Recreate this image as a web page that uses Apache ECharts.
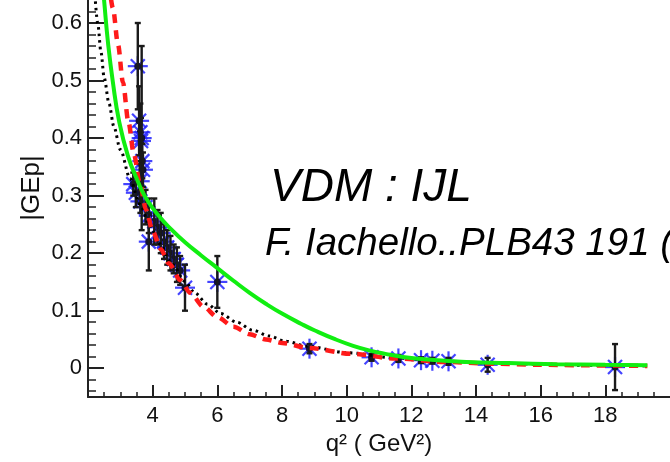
<!DOCTYPE html>
<html>
<head>
<meta charset="utf-8">
<script src="https://cdn.jsdelivr.net/npm/echarts@6/dist/echarts.min.js"></script>
<style>
html,body{margin:0;padding:0;background:#fff;}
#chart{width:670px;height:462px;}
</style>
</head>
<body>
<div id="chart"></div>
<script>
// ---- tick labels ----
const xTickLabels = [4, 6, 8, 10, 12, 14, 16, 18];
const yTickLabels = [0, 0.1, 0.2, 0.3, 0.4, 0.5, 0.6];

// ---- measured data points (q^2, |GEp|, error) ----
const dataQ2  = [3.54, 3.58, 3.62, 3.64, 3.66, 3.68, 3.70, 3.60, 3.48, 3.62, 3.40, 3.78, 3.88, 3.88, 4.05, 4.15, 4.25, 4.35, 4.45, 4.55, 4.65, 4.75, 4.85, 5.00, 6.00, 8.85, 10.77, 11.60, 12.30, 12.65, 13.15, 14.36, 18.30];
const dataGE  = [0.525, 0.43, 0.41, 0.395, 0.40, 0.36, 0.345, 0.325, 0.305, 0.29, 0.32, 0.28, 0.265, 0.22, 0.255, 0.245, 0.235, 0.22, 0.21, 0.20, 0.19, 0.18, 0.17, 0.14, 0.15, 0.034, 0.019, 0.017, 0.014, 0.013, 0.012, 0.006, 0.002];
const dataErr = [0.075, 0.06, 0.05, 0.04, 0.16, 0.03, 0.03, 0.03, 0.025, 0.02, 0.02, 0.03, 0.03, 0.05, 0.04, 0.03, 0.035, 0.03, 0.03, 0.03, 0.025, 0.03, 0.025, 0.04, 0.045, 0.008, 0.006, 0.006, 0.005, 0.005, 0.006, 0.012, 0.04];

// ---- red dashed model curve ----
const dashedQ2 = [2.65, 2.77, 2.93, 3.08, 3.25, 3.42, 3.60, 3.80, 4.00, 4.25, 4.50, 4.86, 5.16, 5.57, 6.00, 6.50, 7.00, 7.50, 8.00, 8.84, 10.16, 11.50, 13.00, 14.50, 16.00, 17.50, 19.30];
const dashedGE = [0.670, 0.626, 0.562, 0.497, 0.428, 0.372, 0.322, 0.275, 0.238, 0.207, 0.182, 0.153, 0.131, 0.107, 0.089, 0.072, 0.059, 0.050, 0.044, 0.035, 0.025, 0.017, 0.011, 0.008, 0.006, 0.005, 0.004];

// ---- black dotted model curve ----
const dottedQ2 = [2.20, 2.30, 2.40, 2.50, 2.65, 2.80, 3.00, 3.30, 3.60, 3.90, 4.20, 4.60, 5.00, 5.30, 5.70, 6.10, 6.60, 7.10, 7.60, 8.10, 8.80, 10.00, 11.50, 13.00, 14.50, 16.00, 17.50, 19.30];
const dottedGE = [0.660, 0.600, 0.550, 0.505, 0.460, 0.420, 0.380, 0.330, 0.285, 0.250, 0.217, 0.181, 0.151, 0.131, 0.111, 0.095, 0.080, 0.066, 0.056, 0.047, 0.038, 0.027, 0.018, 0.012, 0.009, 0.007, 0.005, 0.004];

// ---- green solid model curve ----
const solidQ2 = [2.45, 2.50, 2.62, 2.77, 2.96, 3.23, 3.54, 3.80, 4.20, 4.60, 5.00, 5.50, 6.00, 6.50, 7.00, 7.50, 8.00, 8.60, 9.00, 9.66, 10.20, 10.70, 11.20, 11.70, 12.50, 13.70, 15.00, 16.50, 18.00, 19.30];
const solidGE = [0.670, 0.638, 0.565, 0.497, 0.430, 0.370, 0.325, 0.295, 0.264, 0.240, 0.219, 0.196, 0.174, 0.152, 0.131, 0.112, 0.095, 0.077, 0.066, 0.050, 0.039, 0.031, 0.025, 0.020, 0.015, 0.011, 0.009, 0.007, 0.006, 0.005];

// minor tick positions (axis decoration)
const xMinorTicks = [];
for (let i = 5; i <= 39; i++) { if (i % 4 !== 0) xMinorTicks.push(i / 2); }
const yMinorTicks = [];
for (let i = -2; i <= 31; i++) { if (i % 5 !== 0) yMinorTicks.push(+(i * 0.02).toFixed(2)); }

const pairs = (xs, ys) => xs.map((x, i) => [x, ys[i]]);

const FONT = '"Liberation Sans", Arial, Helvetica, sans-serif';
const AX = '#222';

const chart = echarts.init(document.getElementById('chart'), null, {renderer: 'canvas'});
chart.setOption({
  backgroundColor: '#ffffff',
  animation: false,
  grid: {left: 88, right: -4, top: 0, bottom: 65},
  xAxis: [{
    type: 'value', min: 2, max: 20, position: 'bottom',
    name: 'q² ( GeV²)', nameLocation: 'middle', nameGap: 30,
    nameTextStyle: {fontFamily: FONT, fontSize: 24, color: '#111'},
    axisLine: {show: true, onZero: false, lineStyle: {color: AX, width: 2}},
    axisTick: {show: true, inside: true, length: 12, customValues: [2].concat(xTickLabels), lineStyle: {color: AX, width: 2}},
    axisLabel: {show: true, customValues: xTickLabels, fontFamily: FONT, fontSize: 22, color: '#111', margin: 8},
    splitLine: {show: false}
  }, {
    type: 'value', min: 2, max: 20, position: 'bottom', gridIndex: 0,
    axisLine: {show: false, onZero: false},
    axisTick: {show: true, inside: true, length: 5, customValues: xMinorTicks, lineStyle: {color: AX, width: 1.5}},
    axisLabel: {show: false},
    splitLine: {show: false}
  }],
  yAxis: [{
    type: 'value', min: -0.05, max: 0.64, position: 'left',
    axisLine: {show: true, onZero: false, lineStyle: {color: AX, width: 2}},
    axisTick: {show: true, inside: true, length: 16, customValues: yTickLabels, lineStyle: {color: AX, width: 2}},
    axisLabel: {show: true, customValues: yTickLabels, fontFamily: FONT, fontSize: 22, color: '#111', margin: 6,
      formatter: v => (Math.abs(v) < 1e-9 ? '0' : (+v).toFixed(1))},
    splitLine: {show: false}
  }, {
    type: 'value', min: -0.05, max: 0.64, position: 'left', gridIndex: 0, offset: 0,
    axisLine: {show: false, onZero: false},
    axisTick: {show: true, inside: true, length: 8, customValues: yMinorTicks, lineStyle: {color: AX, width: 1.5}},
    axisLabel: {show: false},
    splitLine: {show: false}
  }],
  series: [{
    // blue asterisks
    type: 'custom', xAxisIndex: 0, yAxisIndex: 0, z: 2, clip: true,
    data: dataQ2.map((q, i) => [q, dataGE[i]]),
    renderItem: function (params, api) {
      const c = api.coord([api.value(0), api.value(1)]);
      const r = 10, d = 7;
      const st = {stroke: '#2222ff', lineWidth: 2.2, opacity: 0.85};
      return {type: 'group', children: [
        {type: 'line', shape: {x1: c[0], y1: c[1] - r, x2: c[0], y2: c[1] + r}, style: st},
        {type: 'line', shape: {x1: c[0] - r, y1: c[1], x2: c[0] + r, y2: c[1]}, style: st},
        {type: 'line', shape: {x1: c[0] - d, y1: c[1] - d, x2: c[0] + d, y2: c[1] + d}, style: st},
        {type: 'line', shape: {x1: c[0] - d, y1: c[1] + d, x2: c[0] + d, y2: c[1] - d}, style: st},
        {type: 'circle', shape: {cx: c[0], cy: c[1], r: 3.5}, style: {fill: '#10103a'}}
      ]};
    }
  }, {
    // black error bars
    type: 'custom', xAxisIndex: 0, yAxisIndex: 0, z: 3, clip: true,
    data: dataQ2.map((q, i) => [q, dataGE[i], dataErr[i]]),
    renderItem: function (params, api) {
      const x = api.value(0), y = api.value(1), e = api.value(2);
      const hi = api.coord([x, y + e]);
      const lo = api.coord([x, y - e]);
      const cap = 3;
      const st = {stroke: '#1a1a1a', lineWidth: 2.4};
      return {type: 'group', children: [
        {type: 'line', shape: {x1: hi[0], y1: hi[1], x2: lo[0], y2: lo[1]}, style: st},
        {type: 'line', shape: {x1: hi[0] - cap, y1: hi[1], x2: hi[0] + cap, y2: hi[1]}, style: st},
        {type: 'line', shape: {x1: lo[0] - cap, y1: lo[1], x2: lo[0] + cap, y2: lo[1]}, style: st}
      ]};
    }
  }, {
    type: 'line', xAxisIndex: 0, yAxisIndex: 0, z: 4,
    data: pairs(dottedQ2, dottedGE), showSymbol: false, symbol: 'none',
    smooth: 0.3, smoothMonotone: 'x', clip: true,
    lineStyle: {color: '#000', width: 3, type: [2.5, 4]}
  }, {
    type: 'line', xAxisIndex: 0, yAxisIndex: 0, z: 5,
    data: pairs(dashedQ2, dashedGE), showSymbol: false, symbol: 'none',
    smooth: 0.3, smoothMonotone: 'x', clip: true,
    lineStyle: {color: '#ff1a1a', width: 4.5, type: [9, 7]}
  }, {
    type: 'line', xAxisIndex: 0, yAxisIndex: 0, z: 6,
    data: pairs(solidQ2, solidGE), showSymbol: false, symbol: 'none',
    smooth: 0.5, clip: true,
    lineStyle: {color: '#11ee11', width: 4}
  }],
  graphic: [{
    type: 'text', z: 10, x: 32, y: 188, rotation: Math.PI / 2,
    style: {text: '|GEp|', font: '26px ' + FONT, fill: '#111', verticalAlign: 'middle', align: 'center'}
  }, {
    type: 'text', z: 10,
    style: {x: 270, y: 188, text: 'VDM : IJL', font: 'italic 46px ' + FONT, fill: '#000', verticalAlign: 'middle', align: 'left'}
  }, {
    type: 'text', z: 10,
    style: {x: 265, y: 244, text: 'F. Iachello..PLB43 191 (1973)', font: 'italic 38.5px ' + FONT, fill: '#000', verticalAlign: 'middle', align: 'left'}
  }]
});
</script>
</body>
</html>
